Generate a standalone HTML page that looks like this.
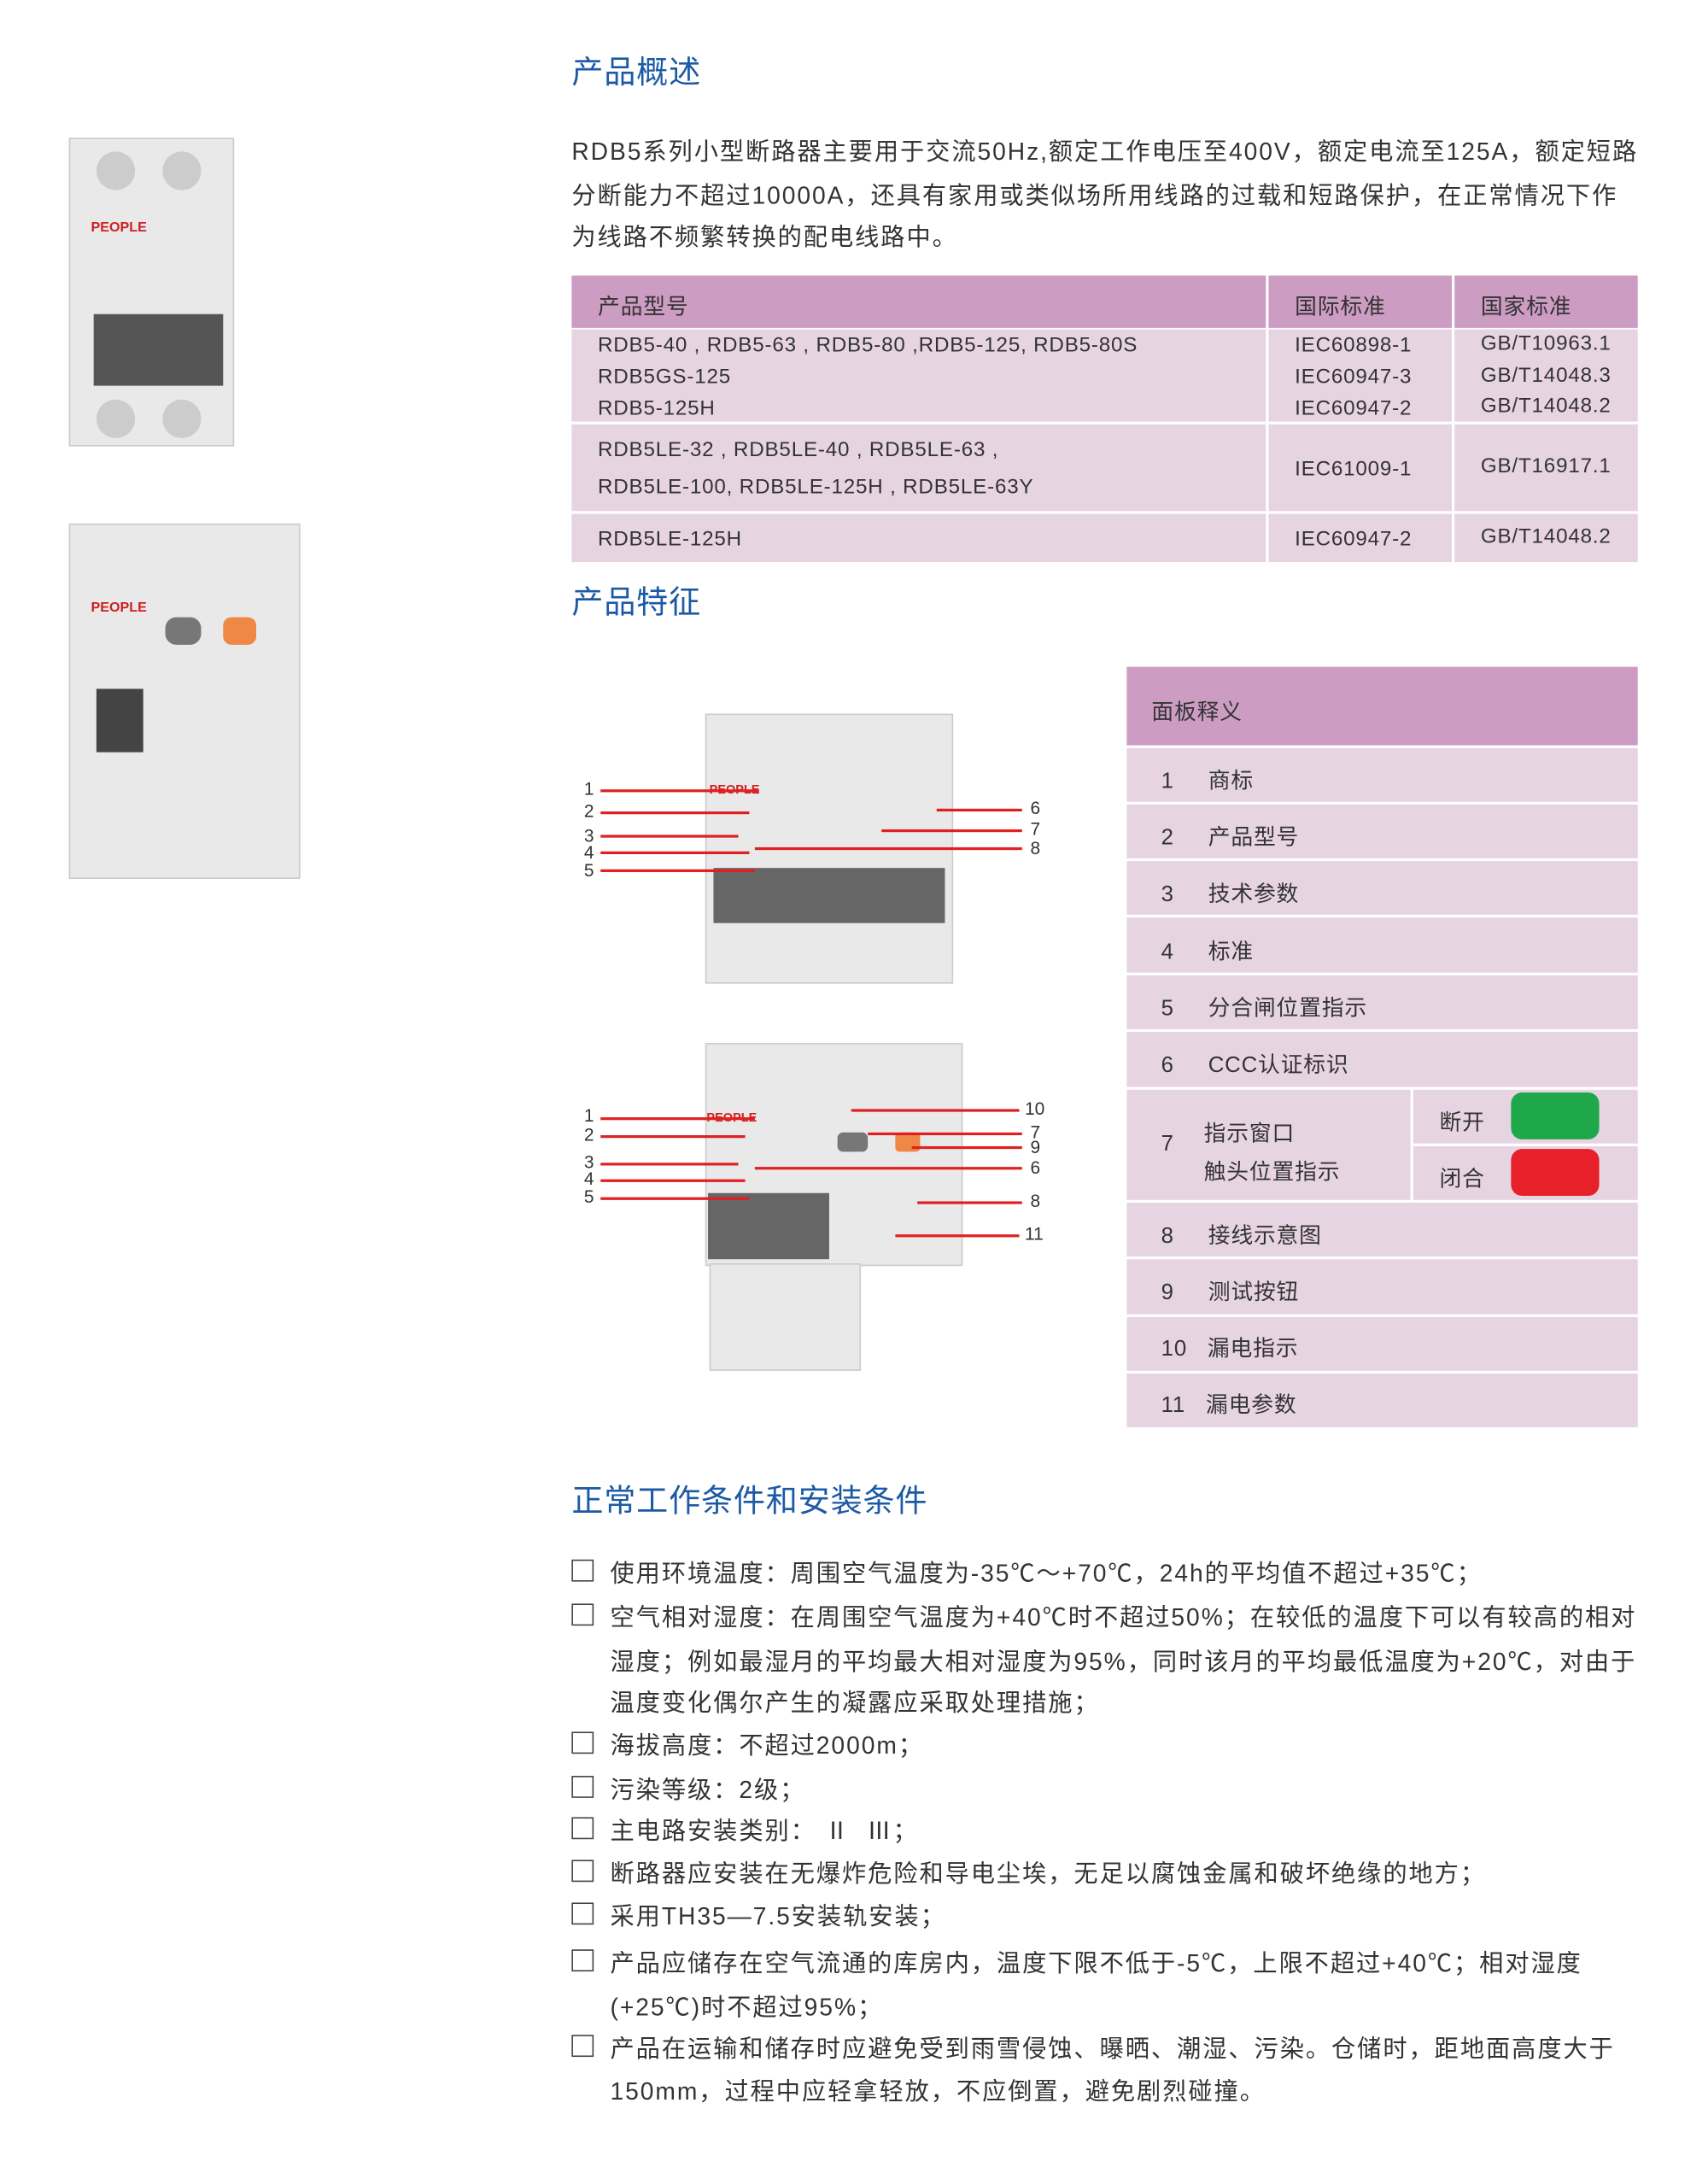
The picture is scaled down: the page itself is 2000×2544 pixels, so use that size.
<!DOCTYPE html>
<html><head><meta charset="utf-8"><style>
html,body{margin:0;padding:0;background:#fff;}
body{width:2000px;height:2544px;overflow:hidden;position:relative;}
#w{position:absolute;left:0;top:0;width:1240px;height:1577px;transform:scale(1.6129);transform-origin:0 0;font-family:"Liberation Sans","Noto Sans CJK SC",sans-serif;color:#333;}
.a{position:absolute;white-space:nowrap;}
.h{color:#1d5aa6;font-size:23px;letter-spacing:0.5px;}
.p{font-size:17.5px;letter-spacing:1.2px;}
.c{position:absolute;width:14px;height:14px;border:1.3px solid #444;left:415px;}
.r{position:absolute;background:#e7d4e3;}
.t{font-size:15px;letter-spacing:0.5px;}
.dev{position:absolute;background:#e9e9ea;border:1px solid #ccc;}
.ln{position:absolute;height:1.5px;background:#e02020;}
.n{position:absolute;font-size:13px;}
</style></head><body><div id="w">

<div class="a h" style="left:415px;top:33px">产品概述</div>
<div class="a p" style="left:415px;top:97px">RDB5系列小型断路器主要用于交流50Hz,额定工作电压至400V，额定电流至125A，额定短路</div>
<div class="a p" style="left:415px;top:129px">分断能力不超过10000A，还具有家用或类似场所用线路的过载和短路保护，在正常情况下作</div>
<div class="a p" style="left:415px;top:159px">为线路不频繁转换的配电线路中。</div>

<div class="r" style="left:415px;top:200px;width:774px;height:38px;background:#cd9cc3"></div>
<div class="r" style="left:415px;top:239px;width:774px;height:67px"></div>
<div class="r" style="left:415px;top:308px;width:774px;height:63px"></div>
<div class="r" style="left:415px;top:373px;width:774px;height:35px"></div>
<div class="a" style="left:919px;top:200px;width:2px;height:208px;background:#fff"></div>
<div class="a" style="left:1054px;top:200px;width:2px;height:208px;background:#fff"></div>
<div class="a t" style="left:434px;top:209px;font-size:16px">产品型号</div>
<div class="a t" style="left:940px;top:209px;font-size:16px">国际标准</div>
<div class="a t" style="left:1075px;top:209px;font-size:16px">国家标准</div>
<div class="a t" style="left:434px;top:242px">RDB5-40 , RDB5-63 , RDB5-80 ,RDB5-125,  RDB5-80S</div>
<div class="a t" style="left:434px;top:265px">RDB5GS-125</div>
<div class="a t" style="left:434px;top:288px">RDB5-125H</div>
<div class="a t" style="left:940px;top:242px">IEC60898-1</div>
<div class="a t" style="left:940px;top:265px">IEC60947-3</div>
<div class="a t" style="left:940px;top:288px">IEC60947-2</div>
<div class="a t" style="left:1075px;top:241px">GB/T10963.1</div>
<div class="a t" style="left:1075px;top:264px">GB/T14048.3</div>
<div class="a t" style="left:1075px;top:286px">GB/T14048.2</div>
<div class="a t" style="left:434px;top:318px">RDB5LE-32 , RDB5LE-40 , RDB5LE-63 ,</div>
<div class="a t" style="left:434px;top:345px">RDB5LE-100, RDB5LE-125H , RDB5LE-63Y</div>
<div class="a t" style="left:940px;top:332px">IEC61009-1</div>
<div class="a t" style="left:1075px;top:330px">GB/T16917.1</div>
<div class="a t" style="left:434px;top:383px">RDB5LE-125H</div>
<div class="a t" style="left:940px;top:383px">IEC60947-2</div>
<div class="a t" style="left:1075px;top:381px">GB/T14048.2</div>

<div class="a h" style="left:415px;top:418px">产品特征</div>

<div class="dev" style="left:50px;top:100px;width:118px;height:222px"></div>
<div class="a" style="left:66px;top:160px;font-size:10px;color:#d02020;font-weight:bold">PEOPLE</div>
<div class="a" style="left:68px;top:228px;width:94px;height:52px;background:#555"></div>
<div class="a" style="left:70px;top:110px;width:28px;height:28px;border-radius:50%;background:#ccc"></div>
<div class="a" style="left:118px;top:110px;width:28px;height:28px;border-radius:50%;background:#ccc"></div>
<div class="a" style="left:70px;top:290px;width:28px;height:28px;border-radius:50%;background:#ccc"></div>
<div class="a" style="left:118px;top:290px;width:28px;height:28px;border-radius:50%;background:#ccc"></div>
<div class="dev" style="left:50px;top:380px;width:166px;height:256px"></div>
<div class="a" style="left:66px;top:436px;font-size:10px;color:#d02020;font-weight:bold">PEOPLE</div>
<div class="a" style="left:70px;top:500px;width:34px;height:46px;background:#444"></div>
<div class="a" style="left:120px;top:448px;width:26px;height:20px;border-radius:8px;background:#777"></div>
<div class="a" style="left:162px;top:448px;width:24px;height:20px;border-radius:6px;background:#ee8844"></div>

<div class="dev" style="left:512px;top:518px;width:178px;height:194px"></div>
<div class="a" style="left:518px;top:630px;width:168px;height:40px;background:#666"></div>
<div class="a" style="left:515px;top:568px;font-size:9px;color:#d02020;font-weight:bold">PEOPLE</div>
<div class="dev" style="left:512px;top:757px;width:185px;height:160px"></div>
<div class="dev" style="left:515px;top:917px;width:108px;height:76px"></div>
<div class="a" style="left:514px;top:866px;width:88px;height:48px;background:#666"></div>
<div class="a" style="left:513px;top:806px;font-size:9px;color:#d02020;font-weight:bold">PEOPLE</div>
<div class="a" style="left:608px;top:822px;width:22px;height:14px;border-radius:4px;background:#777"></div>
<div class="a" style="left:650px;top:822px;width:18px;height:14px;border-radius:3px;background:#ee8844"></div>

<div class="n" style="left:424px;top:565px">1</div><div class="ln" style="left:436px;top:573px;width:115px"></div>
<div class="n" style="left:424px;top:581px">2</div><div class="ln" style="left:436px;top:589px;width:108px"></div>
<div class="n" style="left:424px;top:599px">3</div><div class="ln" style="left:436px;top:606px;width:100px"></div>
<div class="n" style="left:424px;top:611px">4</div><div class="ln" style="left:436px;top:618px;width:108px"></div>
<div class="n" style="left:424px;top:624px">5</div><div class="ln" style="left:436px;top:631px;width:112px"></div>
<div class="n" style="left:748px;top:579px">6</div><div class="ln" style="left:680px;top:587px;width:62px"></div>
<div class="n" style="left:748px;top:594px">7</div><div class="ln" style="left:640px;top:602px;width:102px"></div>
<div class="n" style="left:748px;top:608px">8</div><div class="ln" style="left:548px;top:615px;width:194px"></div>
<div class="n" style="left:424px;top:802px">1</div><div class="ln" style="left:436px;top:811px;width:112px"></div>
<div class="n" style="left:424px;top:816px">2</div><div class="ln" style="left:436px;top:824px;width:105px"></div>
<div class="n" style="left:424px;top:836px">3</div><div class="ln" style="left:436px;top:844px;width:100px"></div>
<div class="n" style="left:424px;top:848px">4</div><div class="ln" style="left:436px;top:856px;width:105px"></div>
<div class="n" style="left:424px;top:861px">5</div><div class="ln" style="left:436px;top:869px;width:108px"></div>
<div class="n" style="left:744px;top:797px">10</div><div class="ln" style="left:618px;top:805px;width:122px"></div>
<div class="n" style="left:748px;top:814px">7</div><div class="ln" style="left:630px;top:822px;width:112px"></div>
<div class="n" style="left:748px;top:825px">9</div><div class="ln" style="left:662px;top:832px;width:80px"></div>
<div class="n" style="left:748px;top:840px">6</div><div class="ln" style="left:548px;top:847px;width:194px"></div>
<div class="n" style="left:748px;top:864px">8</div><div class="ln" style="left:666px;top:872px;width:76px"></div>
<div class="n" style="left:744px;top:888px">11</div><div class="ln" style="left:650px;top:896px;width:90px"></div>

<div class="r" style="left:818px;top:484px;width:371px;height:57px;background:#cd9cc3"></div>
<div class="a t" style="left:836px;top:503px;font-size:16px">面板释义</div>
<div class="r" style="left:818px;top:543px;width:371px;height:39px"></div>
<div class="r" style="left:818px;top:584px;width:371px;height:39px"></div>
<div class="r" style="left:818px;top:625px;width:371px;height:39px"></div>
<div class="r" style="left:818px;top:666px;width:371px;height:40px"></div>
<div class="r" style="left:818px;top:708px;width:371px;height:39px"></div>
<div class="r" style="left:818px;top:749px;width:371px;height:40px"></div>
<div class="r" style="left:818px;top:791px;width:206px;height:80px"></div>
<div class="r" style="left:1026px;top:791px;width:163px;height:39px"></div>
<div class="r" style="left:1026px;top:832px;width:163px;height:39px"></div>
<div class="r" style="left:818px;top:873px;width:371px;height:39px"></div>
<div class="r" style="left:818px;top:914px;width:371px;height:40px"></div>
<div class="r" style="left:818px;top:956px;width:371px;height:39px"></div>
<div class="r" style="left:818px;top:997px;width:371px;height:39px"></div>
<div class="a t" style="left:843px;top:553px;font-size:16px">1 &nbsp;&nbsp;&nbsp; 商标</div>
<div class="a t" style="left:843px;top:594px;font-size:16px">2 &nbsp;&nbsp;&nbsp; 产品型号</div>
<div class="a t" style="left:843px;top:635px;font-size:16px">3 &nbsp;&nbsp;&nbsp; 技术参数</div>
<div class="a t" style="left:843px;top:677px;font-size:16px">4 &nbsp;&nbsp;&nbsp; 标准</div>
<div class="a t" style="left:843px;top:718px;font-size:16px">5 &nbsp;&nbsp;&nbsp; 分合闸位置指示</div>
<div class="a t" style="left:843px;top:759px;font-size:16px">6 &nbsp;&nbsp;&nbsp; CCC认证标识</div>
<div class="a t" style="left:843px;top:822px;font-size:16px">7</div>
<div class="a t" style="left:874px;top:809px;font-size:16px">指示窗口</div>
<div class="a t" style="left:874px;top:837px;font-size:16px">触头位置指示</div>
<div class="a t" style="left:1045px;top:801px;font-size:16px">断开</div>
<div class="a t" style="left:1045px;top:842px;font-size:16px">闭合</div>
<div class="a" style="left:1097px;top:793px;width:64px;height:34px;border-radius:8px;background:#1ea84a"></div>
<div class="a" style="left:1097px;top:834px;width:64px;height:34px;border-radius:8px;background:#e8202a"></div>
<div class="a t" style="left:843px;top:883px;font-size:16px">8 &nbsp;&nbsp;&nbsp; 接线示意图</div>
<div class="a t" style="left:843px;top:924px;font-size:16px">9 &nbsp;&nbsp;&nbsp; 测试按钮</div>
<div class="a t" style="left:843px;top:965px;font-size:16px">10 &nbsp; 漏电指示</div>
<div class="a t" style="left:843px;top:1006px;font-size:16px">11 &nbsp; 漏电参数</div>

<div class="a h" style="left:415px;top:1070px">正常工作条件和安装条件</div>

<div class="c" style="top:1132px"></div><div class="a p" style="left:443px;top:1129px">使用环境温度：周围空气温度为-35℃～+70℃，24h的平均值不超过+35℃；</div>
<div class="c" style="top:1164px"></div><div class="a p" style="left:443px;top:1161px">空气相对湿度：在周围空气温度为+40℃时不超过50%；在较低的温度下可以有较高的相对</div>
<div class="a p" style="left:443px;top:1193px">湿度；例如最湿月的平均最大相对湿度为95%，同时该月的平均最低温度为+20℃，对由于</div>
<div class="a p" style="left:443px;top:1223px">温度变化偶尔产生的凝露应采取处理措施；</div>
<div class="c" style="top:1257px"></div><div class="a p" style="left:443px;top:1254px">海拔高度：不超过2000m；</div>
<div class="c" style="top:1289px"></div><div class="a p" style="left:443px;top:1286px">污染等级：2级；</div>
<div class="c" style="top:1319px"></div><div class="a p" style="left:443px;top:1316px">主电路安装类别： Ⅱ &nbsp;Ⅲ；</div>
<div class="c" style="top:1350px"></div><div class="a p" style="left:443px;top:1347px">断路器应安装在无爆炸危险和导电尘埃，无足以腐蚀金属和破坏绝缘的地方；</div>
<div class="c" style="top:1381px"></div><div class="a p" style="left:443px;top:1378px">采用TH35—7.5安装轨安装；</div>
<div class="c" style="top:1415px"></div><div class="a p" style="left:443px;top:1412px">产品应储存在空气流通的库房内，温度下限不低于-5℃，上限不超过+40℃；相对湿度</div>
<div class="a p" style="left:443px;top:1444px">(+25℃)时不超过95%；</div>
<div class="c" style="top:1477px"></div><div class="a p" style="left:443px;top:1474px">产品在运输和储存时应避免受到雨雪侵蚀、曝晒、潮湿、污染。仓储时，距地面高度大于</div>
<div class="a p" style="left:443px;top:1505px">150mm，过程中应轻拿轻放，不应倒置，避免剧烈碰撞。</div>

</div></body></html>
